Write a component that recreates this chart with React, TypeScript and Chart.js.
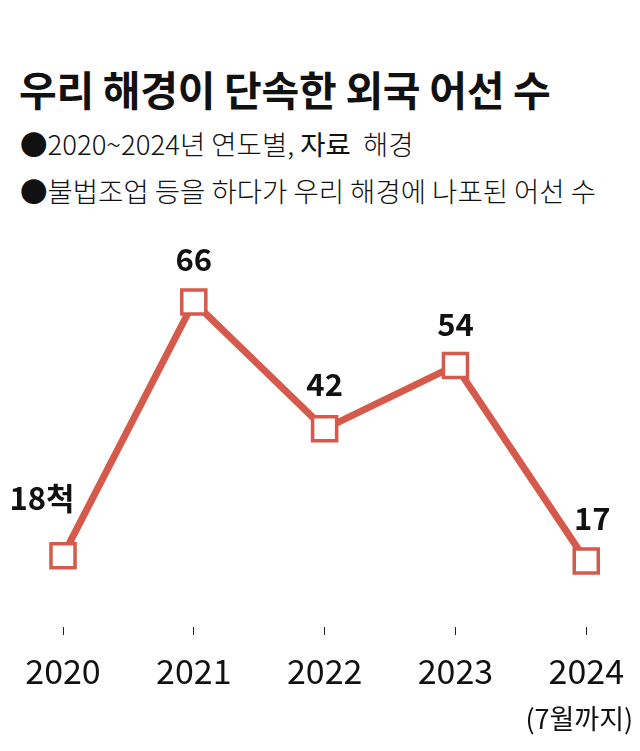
import React, { useEffect, useRef } from "react";
import { Chart, registerables } from "chart.js";

Chart.register(...registerables);

const years = ["2020", "2021", "2022", "2023", "2024"];
const vessels = [18, 66, 42, 54, 17];
const valueLabels = ["18척", "66", "42", "54", "17"];
const lastNote = "(7월까지)";
const titleText = "우리 해경이 단속한 외국 어선 수";
const sub1a = "●2020~2024년 연도별, ";
const sub1b = "자료";
const sub1c = "  해경";
const sub2 = "●불법조업 등을 하다가 우리 해경에 나포된 어선 수";

const RED = "#d65a4b";
const FONT = "'Noto Sans CJK KR', 'Noto Sans', sans-serif";

const labelPlugin = {
  id: "valueLabels",
  afterDatasetsDraw(chart: any) {
    const ctx = chart.ctx;
    const meta = chart.getDatasetMeta(0);
    const offsets = [
      [-21, -57],
      [0, -43],
      [0, -45],
      [0, -41],
      [6, -43],
    ];
    ctx.save();
    ctx.fillStyle = "#111";
    ctx.font = `bold 31px ${FONT}`;
    ctx.textAlign = "center";
    ctx.textBaseline = "middle";
    meta.data.forEach((pt: any, i: number) => {
      const [dx, dy] = offsets[i];
      ctx.fillText(valueLabels[i], pt.x + dx, pt.y + dy);
    });
    const xs = chart.scales.x;
    const lx = xs.getPixelForValue(years.length - 1);
    ctx.font = `400 27px ${FONT}`;
    ctx.fillStyle = "#111";
    ctx.fillText(lastNote, lx - 7, 719);
    ctx.restore();
  },
};

export default function App() {
  const ref = useRef<HTMLCanvasElement>(null);
  useEffect(() => {
    document.body.style.margin = "0";
    const chart = new Chart(ref.current!, {
      type: "line",
      data: {
        labels: years,
        datasets: [
          {
            data: vessels,
            borderColor: RED,
            borderWidth: 7,
            pointStyle: "rect",
            pointRadius: 17,
            pointBorderWidth: 3.5,
            pointBorderColor: RED,
            pointBackgroundColor: "#fff",
            tension: 0,
            clip: false as any,
          },
        ],
      },
      options: {
        animation: false,
        responsive: false,
        devicePixelRatio: 1,
        layout: { padding: { top: 228, left: 63, right: 53, bottom: 0 } },
        plugins: { legend: { display: false }, tooltip: { enabled: false } },
        scales: {
          y: { display: false, min: 4.5, max: 80 },
          x: {
            offset: false,
            border: { display: false },
            grid: {
              drawOnChartArea: false,
              drawTicks: true,
              tickLength: 8,
              color: "#222",
              lineWidth: 1,
            },
            ticks: {
              color: "#111",
              font: { family: FONT, size: 34, weight: 400 as any },
              padding: 16,
              maxRotation: 0,
              autoSkip: false,
            },
            afterFit: (s: any) => {
              s.height = 124;
            },
          },
        },
      },
      plugins: [labelPlugin],
    });
    return () => chart.destroy();
  }, []);

  return (
    <div style={{ position: "fixed", left: 0, top: 0, width: 640, height: 751, background: "#fff", fontFamily: FONT, color: "#111" }}>
      <div style={{ position: "absolute", left: 19, top: 68, fontSize: 41, fontWeight: 700, lineHeight: "41px", letterSpacing: "-0.3px", whiteSpace: "nowrap" }}>
        {titleText}
      </div>
      <div style={{ position: "absolute", left: 20, top: 129, fontSize: 27.5, fontWeight: 300, lineHeight: "28px", whiteSpace: "pre" }}>
        {sub1a}
        <b>{sub1b}</b>
        {sub1c}
      </div>
      <div style={{ position: "absolute", left: 20, top: 176, fontSize: 27.5, fontWeight: 300, lineHeight: "28px", whiteSpace: "pre" }}>
        {sub2}
      </div>
      <canvas ref={ref} width={640} height={751} style={{ position: "absolute", left: 0, top: 0 }} />
    </div>
  );
}
